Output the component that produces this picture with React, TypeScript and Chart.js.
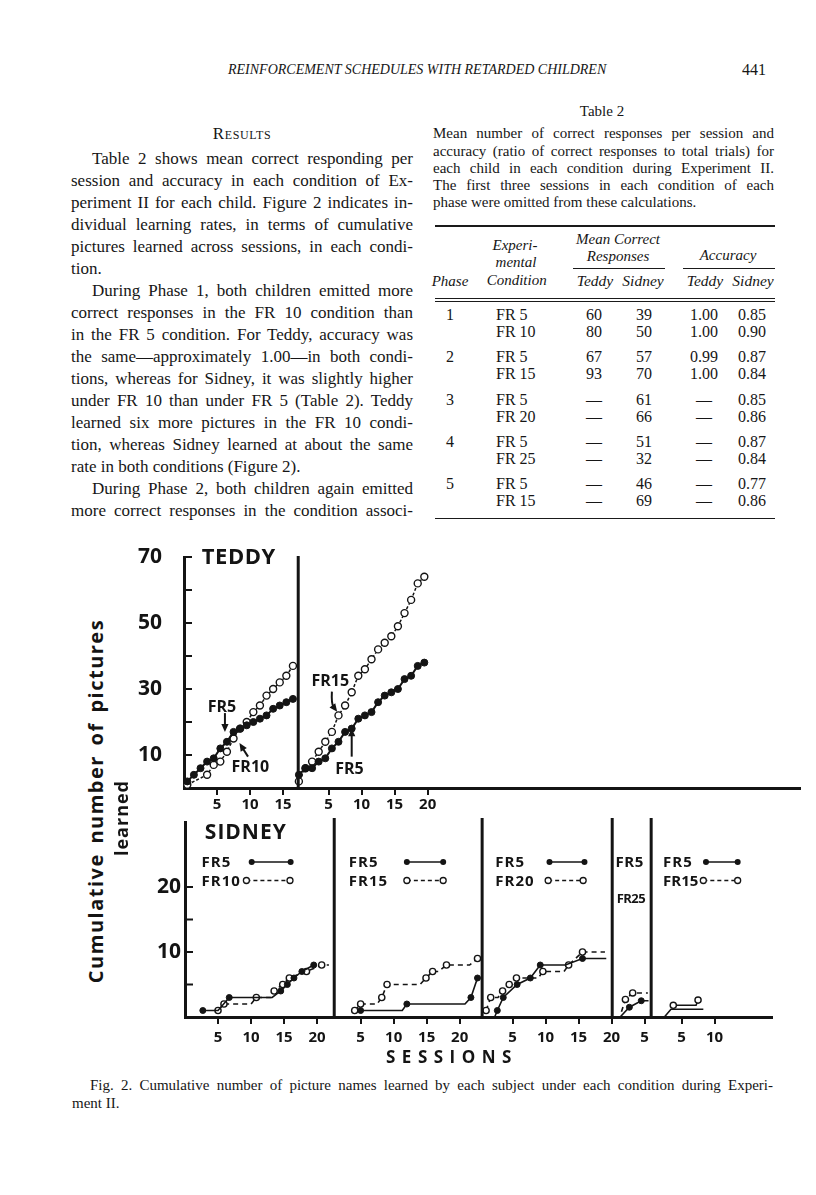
import React, { useEffect, useRef } from "react";
import { Chart, registerables } from "chart.js";

Chart.register(...registerables);

const INK = "#141414";
const SANS = '"Open Sans", "DejaVu Sans", sans-serif';
const SERIF = '"Liberation Serif", "Times New Roman", serif';

/* ================= Figure 2 data ================= */
// Teddy – Phase 1 (FR 5 filled / FR 10 open)
const teddyP1Sessions = [1, 2, 3, 4, 5, 6, 7, 8, 9, 10, 11, 12, 13, 14, 15, 16, 17];
const teddyP1FR5 = [2, 4, 6, 8, 9, 12, 14, 17, 18, 19, 20, 21, 22, 24, 25, 26, 27];
const teddyP1FR10Sessions = [1, 4, 5, 6, 7, 8, 9, 10, 11, 12, 13, 14, 15, 16, 17];
const teddyP1FR10 = [1, 4, 7, 8, 11, 15, 18, 20, 23, 25, 28, 30, 32, 34, 37];
// Teddy – Phase 2 (FR 5 filled / FR 15 open)
const teddyP2Sessions = [1, 2, 3, 4, 5, 6, 7, 8, 9, 10, 11, 12, 13, 14, 15, 16, 17, 18, 19, 20];
const teddyP2FR5 = [4, 6, 6, 8, 9, 12, 14, 17, 18, 21, 22, 23, 26, 28, 29, 30, 33, 34, 37, 38];
const teddyP2FR15 = [2, 6, 8, 11, 14, 17, 22, 25, 29, 34, 36, 39, 42, 44, 46, 49, 53, 57, 62, 64];

const teddyXTickLabels = [[5, 10, 15], [5, 10, 15, 20]];
const teddyYLabels = [10, 30, 50, 70];
const teddyYTicks = [10, 20, 30, 40, 50, 60, 70];

// Sidney – sessions (read positions), cumulative values, marker flags
const sidP1FR5Sessions = [2.7, 5.0, 6.7, 13.2, 14.5, 15.5, 16.5, 17.7, 19.5];
const sidP1FR5 = [1, 1, 3, 3, 4, 5, 6, 7, 8];
const sidP1FR5Marks = [1, 0, 1, 0, 1, 1, 1, 1, 1];
const sidP1FR10Sessions = [5.0, 5.9, 10.0, 10.8, 13.0, 13.5, 14.8, 15.8, 18.4, 20.7, 21.8];
const sidP1FR10 = [1, 2, 2, 3, 3, 4, 5, 6, 7, 8, 8];
const sidP1FR10Marks = [1, 1, 0, 1, 0, 1, 1, 1, 1, 1, 0];

const sidP2FR5Sessions = [5.0, 11.3, 12.0, 20.8, 21.7, 22.7];
const sidP2FR5 = [1, 1, 2, 2, 3, 6];
const sidP2FR5Marks = [1, 0, 1, 0, 1, 1];
const sidP2FR15Sessions = [4.1, 5.0, 7.5, 8.2, 9.0, 14.0, 14.9, 15.9, 16.8, 18.0, 21.5, 22.7];
const sidP2FR15 = [1, 2, 2, 3, 5, 5, 6, 7, 7, 8, 8, 9];
const sidP2FR15Marks = [1, 1, 0, 1, 1, 0, 1, 1, 0, 1, 0, 1];

const sidP3FR5Sessions = [2.3, 2.7, 3.6, 5.7, 7.7, 9.2, 13.0, 15.6, 19.2];
const sidP3FR5 = [0, 1, 3, 5, 6, 8, 8, 9, 9];
const sidP3FR5Marks = [0, 1, 1, 1, 1, 1, 0, 1, 0];
const sidP3FR20Sessions = [1.0, 1.7, 2.8, 3.5, 4.5, 5.6, 8.9, 9.6, 12.8, 13.5, 15.6, 19.0];
const sidP3FR20 = [1, 3, 3, 4, 5, 6, 6, 7, 7, 8, 10, 10];
const sidP3FR20Marks = [1, 1, 0, 1, 1, 1, 0, 1, 0, 1, 1, 0];

const sidP4FR5Sessions = [1.3, 2.7, 4.5, 5.6];
const sidP4FR5 = [0, 1.5, 2.5, 2.5];
const sidP4FR5Marks = [0, 1, 1, 0];
const sidP4FR25Sessions = [1.5, 2.1, 3.2, 5.5];
const sidP4FR25 = [0.8, 2.7, 3.7, 3.7];
const sidP4FR25Marks = [0, 1, 1, 0];

const sidP5FR5Sessions = [2.4, 3.4, 8.3];
const sidP5FR5 = [0, 1.2, 1.2];
const sidP5FR5Marks = [0, 0, 0];
const sidP5FR15Sessions = [3.75, 7.2, 7.5];
const sidP5FR15 = [1.8, 1.8, 2.6];
const sidP5FR15Marks = [1, 0, 1];

const sidXTickLabels = [[5, 10, 15, 20], [5, 10, 15, 20], [5, 10, 15, 20], [5], [5, 10]];
const sidYLabels = [10, 20];
const sidYTicks = [5, 10, 15, 20];

/* ================= Table 2 data ================= */
const tablePhases = ["1", "2", "3", "4", "5"];
const tableConditions = [["FR 5", "FR 10"], ["FR 5", "FR 15"], ["FR 5", "FR 20"], ["FR 5", "FR 25"], ["FR 5", "FR 15"]];
const tableTeddyMean = [["60", "80"], ["67", "93"], ["—", "—"], ["—", "—"], ["—", "—"]];
const tableSidneyMean = [["39", "50"], ["57", "70"], ["61", "66"], ["51", "32"], ["46", "69"]];
const tableTeddyAcc = [["1.00", "1.00"], ["0.99", "1.00"], ["—", "—"], ["—", "—"], ["—", "—"]];
const tableSidneyAcc = [["0.85", "0.90"], ["0.87", "0.84"], ["0.85", "0.86"], ["0.87", "0.84"], ["0.77", "0.86"]];

/* ================= layout constants (axis units) ================= */
const TEDDY_X_MAX = 93.3;
const TEDDY_ORIGINS = [0, 16.9];
const TEDDY_DATA_SHIFT = -0.5;
const TEDDY_DIVIDERS = [17.3];
const SID_X_MAX = 88.9;
const SID_ORIGINS = [0, 21.6, 44.6, 64.6, 70.2];
const SID_DIVIDERS = [22.6, 45.0, 64.7, 70.6];

function series(sessions, values, origin, filled, o) {
  return {
    data: sessions.map((s, i) => ({ x: origin + s, y: values[i] })),
    showLine: true,
    borderColor: INK,
    borderWidth: o.lw,
    borderDash: o.dash,
    tension: 0,
    pointRadius: o.marks ? o.marks.map((m) => (m ? o.r : 0)) : o.r,
    pointHoverRadius: 0,
    pointBackgroundColor: filled ? INK : "#ffffff",
    pointBorderColor: INK,
    pointBorderWidth: filled ? 1 : 1.4,
    clip: false,
  };
}

function extras(cfg) {
  return {
    id: "figureExtras",
    afterDraw(chart) {
      const { ctx, chartArea } = chart;
      const xs = chart.scales.x;
      const ys = chart.scales.y;
      const P = (x, y) => ({ x: xs.getPixelForValue(x), y: ys.getPixelForValue(y) });
      ctx.save();
      ctx.strokeStyle = INK;
      ctx.fillStyle = INK;
      ctx.setLineDash([]);
      // inner y ticks
      ctx.lineWidth = 2;
      cfg.yTicks.forEach((v) => {
        const py = ys.getPixelForValue(v);
        ctx.beginPath();
        ctx.moveTo(chartArea.left, py);
        ctx.lineTo(chartArea.left + cfg.tickLen, py);
        ctx.stroke();
      });
      // phase dividers
      ctx.lineWidth = 3;
      cfg.dividers.forEach((v) => {
        const px = xs.getPixelForValue(v);
        ctx.beginPath();
        ctx.moveTo(px, chartArea.bottom);
        ctx.lineTo(px, chartArea.top - cfg.dividerOver);
        ctx.stroke();
      });
      // texts
      cfg.texts.forEach((t) => {
        const p = P(t.x, t.y);
        ctx.font = `bold ${t.size}px ${SANS}`;
        ctx.letterSpacing = `${t.spacing || 0}px`;
        ctx.textAlign = "left";
        ctx.textBaseline = "alphabetic";
        ctx.fillText(t.text, p.x, p.y + 0.36 * t.size);
      });
      ctx.letterSpacing = "0px";
      // arrows
      cfg.arrows.forEach((a) => {
        const p1 = P(a.x1, a.y1);
        const p2 = P(a.x2, a.y2);
        const c = a.cx !== undefined ? P(a.cx, a.cy) : null;
        const from = c || p1;
        const ang = Math.atan2(p2.y - from.y, p2.x - from.x);
        const L = 8, W = 3.6;
        const endX = p2.x - Math.cos(ang) * (L - 2);
        const endY = p2.y - Math.sin(ang) * (L - 2);
        ctx.lineWidth = 2;
        ctx.beginPath();
        ctx.moveTo(p1.x, p1.y);
        if (c) ctx.quadraticCurveTo(c.x, c.y, endX, endY);
        else ctx.lineTo(endX, endY);
        ctx.stroke();
        ctx.beginPath();
        ctx.moveTo(p2.x, p2.y);
        ctx.lineTo(p2.x - L * Math.cos(ang) + W * Math.sin(ang), p2.y - L * Math.sin(ang) - W * Math.cos(ang));
        ctx.lineTo(p2.x - L * Math.cos(ang) - W * Math.sin(ang), p2.y - L * Math.sin(ang) + W * Math.cos(ang));
        ctx.closePath();
        ctx.fill();
      });
      // legend samples
      cfg.samples.forEach((s) => {
        const a = P(s.x1, s.y);
        const b = P(s.x2, s.y);
        ctx.lineWidth = 1.6;
        ctx.setLineDash(s.filled ? [] : [4, 3]);
        ctx.beginPath();
        ctx.moveTo(a.x, a.y);
        ctx.lineTo(b.x, b.y);
        ctx.stroke();
        ctx.setLineDash([]);
        [a, b].forEach((p) => {
          ctx.beginPath();
          ctx.arc(p.x, p.y, 3, 0, Math.PI * 2);
          if (s.filled) {
            ctx.fill();
          } else {
            ctx.fillStyle = "#fff";
            ctx.fill();
            ctx.fillStyle = INK;
            ctx.lineWidth = 1.3;
            ctx.stroke();
          }
        });
      });
      ctx.restore();
    },
  };
}

function xScale(max, origins, labels, axisHeight, pad) {
  const vals = [];
  const labs = [];
  labels.forEach((arr, i) => arr.forEach((l) => { vals.push(origins[i] + l); labs.push(String(l)); }));
  return {
    type: "linear",
    position: "bottom",
    min: 0,
    max,
    afterBuildTicks: (s) => { s.ticks = vals.map((v) => ({ value: v })); },
    ticks: {
      autoSkip: false, maxRotation: 0, minRotation: 0, padding: pad, color: INK,
      font: { family: SANS, weight: "bold", size: 15 },
      callback: (_v, i) => labs[i],
    },
    grid: { display: true, drawOnChartArea: false, drawTicks: true, tickLength: 7, lineWidth: 2, color: INK },
    border: { display: true, width: 3, color: INK },
    afterFit: (s) => {
      s.height = axisHeight;
      s.paddingLeft = 0;
      s.paddingRight = 0;
    },
  };
}

function yScale(max, labels, pad, width) {
  return {
    type: "linear",
    position: "left",
    min: 0,
    max,
    afterBuildTicks: (s) => { s.ticks = labels.map((v) => ({ value: v })); },
    ticks: { padding: pad, color: INK, font: { family: SANS, weight: "bold", size: 21 }, callback: (v) => String(v) },
    grid: { display: false, drawTicks: false },
    border: { display: true, width: 3, color: INK },
    afterFit: (s) => {
      s.width = width;
      s.paddingTop = 0;
      s.paddingBottom = 0;
    },
  };
}

function teddyConfig() {
  const o1 = TEDDY_ORIGINS[0] + TEDDY_DATA_SHIFT;
  const o2 = TEDDY_ORIGINS[1] + TEDDY_DATA_SHIFT;
  const filled = { r: 3.5, lw: 2, dash: [] };
  const open = { r: 3.5, lw: 1.5, dash: [3, 2] };
  return {
    type: "scatter",
    data: {
      datasets: [
        series(teddyP1Sessions, teddyP1FR5, o1, true, filled),
        series(teddyP1FR10Sessions, teddyP1FR10, o1, false, open),
        series(teddyP2Sessions, teddyP2FR5, o2, true, filled),
        series(teddyP2Sessions, teddyP2FR15, o2, false, open),
      ],
    },
    options: {
      animation: false,
      responsive: false,
      devicePixelRatio: 1,
      events: [],
      layout: { autoPadding: false, padding: { top: 17, right: 10, left: 0, bottom: 0 } },
      plugins: { legend: { display: false }, tooltip: { enabled: false } },
      scales: {
        x: xScale(TEDDY_X_MAX, TEDDY_ORIGINS, teddyXTickLabels, 24, 1),
        y: yScale(70, teddyYLabels, 22, 54),
      },
    },
    plugins: [
      extras({
        yTicks: teddyYTicks,
        tickLen: 8,
        dividers: TEDDY_DIVIDERS,
        dividerOver: 1,
        texts: [
          { text: "TEDDY", x: 2.7, y: 70.2, size: 22, spacing: 0.5 },
          { text: "FR5", x: 3.6, y: 24.8, size: 16 },
          { text: "FR10", x: 7.2, y: 6.7, size: 16 },
          { text: "FR15", x: 19.3, y: 32.7, size: 16 },
          { text: "FR5", x: 22.9, y: 6.1, size: 16 },
        ],
        arrows: [
          { x1: 6.2, y1: 22.7, x2: 6.2, y2: 17.0 },
          { x1: 9.7, y1: 9.5, x2: 8.4, y2: 13.6 },
          { x1: 22.4, y1: 29.2, x2: 23.2, y2: 23.1, cx: 22.3, cy: 25.5 },
          { x1: 25.4, y1: 9.5, x2: 25.4, y2: 18.1 },
        ],
        samples: [],
      }),
    ],
  };
}

function sidneyConfig() {
  const filled = (marks) => ({ r: 3, lw: 1.6, dash: [], marks });
  const open = (marks) => ({ r: 3.1, lw: 1.6, dash: [5, 4], marks });
  const O = SID_ORIGINS;
  return {
    type: "scatter",
    data: {
      datasets: [
        series(sidP1FR5Sessions, sidP1FR5, O[0], true, filled(sidP1FR5Marks)),
        series(sidP1FR10Sessions, sidP1FR10, O[0], false, open(sidP1FR10Marks)),
        series(sidP2FR5Sessions, sidP2FR5, O[1], true, filled(sidP2FR5Marks)),
        series(sidP2FR15Sessions, sidP2FR15, O[1], false, open(sidP2FR15Marks)),
        series(sidP3FR5Sessions, sidP3FR5, O[2], true, filled(sidP3FR5Marks)),
        series(sidP3FR20Sessions, sidP3FR20, O[2], false, open(sidP3FR20Marks)),
        series(sidP4FR5Sessions, sidP4FR5, O[3], true, filled(sidP4FR5Marks)),
        series(sidP4FR25Sessions, sidP4FR25, O[3], false, open(sidP4FR25Marks)),
        series(sidP5FR5Sessions, sidP5FR5, O[4], true, filled(sidP5FR5Marks)),
        series(sidP5FR15Sessions, sidP5FR15, O[4], false, { r: 3.1, lw: 1.6, dash: [], marks: sidP5FR15Marks }),
      ],
    },
    options: {
      animation: false,
      responsive: false,
      devicePixelRatio: 1,
      events: [],
      layout: { autoPadding: false, padding: { top: 10, right: 18, left: 0, bottom: 0 } },
      plugins: { legend: { display: false }, tooltip: { enabled: false } },
      scales: {
        x: xScale(SID_X_MAX, SID_ORIGINS, sidXTickLabels, 30, 5),
        y: yScale(30, sidYLabels, 4, 55),
      },
    },
    plugins: [
      extras({
        yTicks: sidYTicks,
        tickLen: 8,
        dividers: SID_DIVIDERS,
        dividerOver: 4,
        texts: [
          { text: "SIDNEY", x: 3.0, y: 28.5, size: 21, spacing: 1 },
          { text: "FR5", x: 2.5, y: 23.85, size: 15, spacing: 1 },
          { text: "FR10", x: 2.5, y: 21.0, size: 15, spacing: 1 },
          { text: "FR5", x: 24.8, y: 23.85, size: 15, spacing: 1 },
          { text: "FR15", x: 24.8, y: 21.0, size: 15, spacing: 1 },
          { text: "FR5", x: 47.0, y: 23.85, size: 15, spacing: 1 },
          { text: "FR20", x: 47.0, y: 21.0, size: 15, spacing: 1 },
          { text: "FR5", x: 65.2, y: 23.85, size: 15, spacing: 0.5 },
          { text: "FR25", x: 65.4, y: 18.3, size: 13, spacing: -0.6 },
          { text: "FR5", x: 72.4, y: 23.85, size: 15, spacing: 1 },
          { text: "FR15", x: 72.4, y: 21.0, size: 15, spacing: 0 },
        ],
        arrows: [],
        samples: [
          { x1: 10.1, x2: 16.0, y: 23.85, filled: true },
          { x1: 9.3, x2: 15.9, y: 21.0, filled: false },
          { x1: 33.6, x2: 39.1, y: 23.85, filled: true },
          { x1: 33.6, x2: 39.1, y: 21.0, filled: false },
          { x1: 55.2, x2: 60.5, y: 23.85, filled: true },
          { x1: 55.0, x2: 60.3, y: 21.0, filled: false },
          { x1: 78.9, x2: 83.7, y: 23.85, filled: true },
          { x1: 78.5, x2: 83.7, y: 21.0, filled: false },
        ],
      }),
    ],
  };
}

function ChartCanvas({ make, left, top, width, height }) {
  const ref = useRef(null);
  useEffect(() => {
    const chart = new Chart(ref.current, make());
    return () => chart.destroy();
  }, []);
  return (
    <canvas
      ref={ref}
      width={width}
      height={height}
      style={{ position: "absolute", left, top, width, height }}
    />
  );
}

/* ================= page text ================= */
function Txt({ x, cy, w, size, lh, align = "left", italic = false, caps = false, family = SERIF, style = {}, children }) {
  const justify = align === "justify";
  return (
    <div
      style={{
        position: "absolute",
        left: x,
        top: cy - lh / 2 - (caps ? 0 : 0.08 * size),
        width: w,
        fontSize: size,
        lineHeight: `${lh}px`,
        fontFamily: family,
        fontStyle: italic ? "italic" : "normal",
        textAlign: justify ? "justify" : align,
        textAlignLast: justify ? "justify" : undefined,
        whiteSpace: w ? "normal" : "nowrap",
        color: "#161616",
        ...style,
      }}
    >
      {children}
    </div>
  );
}

const resultsLines = [
  { t: "Table 2 shows mean correct responding per", indent: true },
  { t: "session and accuracy in each condition of Ex-" },
  { t: "periment II for each child. Figure 2 indicates in-" },
  { t: "dividual learning rates, in terms of cumulative" },
  { t: "pictures learned across sessions, in each condi-" },
  { t: "tion.", last: true },
  { t: "During Phase 1, both children emitted more", indent: true },
  { t: "correct responses in the FR 10 condition than" },
  { t: "in the FR 5 condition. For Teddy, accuracy was" },
  { t: "the same—approximately 1.00—in both condi-" },
  { t: "tions, whereas for Sidney, it was slightly higher" },
  { t: "under FR 10 than under FR 5 (Table 2). Teddy" },
  { t: "learned six more pictures in the FR 10 condi-" },
  { t: "tion, whereas Sidney learned at about the same" },
  { t: "rate in both conditions (Figure 2).", last: true },
  { t: "During Phase 2, both children again emitted", indent: true },
  { t: "more correct responses in the condition associ-" },
];

const tableCaptionLines = [
  { t: "Mean number of correct responses per session and" },
  { t: "accuracy (ratio of correct responses to total trials) for" },
  { t: "each child in each condition during Experiment II." },
  { t: "The first three sessions in each condition of each" },
  { t: "phase were omitted from these calculations.", last: true },
];

const rowCenters = [316.7, 358.3, 401, 443.3, 485.7];
const ROW_GAP = 17;

function Rule({ x1, x2, y, h = 1 }) {
  return <div style={{ position: "absolute", left: x1, top: y - h / 2, width: x2 - x1, height: h, background: "#1a1a1a" }} />;
}

function Centered({ cx, cy, size, italic = false, children, caps = false, lh = 20 }) {
  return (
    <Txt x={cx - 100} cy={cy} w={200} size={size} lh={lh} align="center" italic={italic} caps={caps}>
      {children}
    </Txt>
  );
}

export default function App() {
  return (
    <div style={{ position: "absolute", left: 0, top: 0, width: 816, height: 1195, background: "#fff", overflow: "hidden" }}>
      {/* running head */}
      <Txt x={228} cy={70} size={14} lh={18} italic caps>
        REINFORCEMENT SCHEDULES WITH RETARDED CHILDREN
      </Txt>
      <Txt x={742} cy={70} size={16} lh={18} caps>441</Txt>

      {/* left column */}
      <Centered cx={242} cy={134} size={17} caps lh={22}>
        <span style={{ fontVariant: "small-caps", letterSpacing: "0.6px" }}>Results</span>
      </Centered>
      {resultsLines.map((l, i) => (
        <Txt
          key={i}
          x={l.indent ? 92 : 71}
          cy={160 + 22 * i}
          w={l.indent ? 321 : 342}
          size={17}
          lh={22}
          align={l.last ? "left" : "justify"}
        >
          {l.t}
        </Txt>
      ))}

      {/* right column: Table 2 */}
      <Centered cx={602} cy={112} size={15} lh={18}>Table 2</Centered>
      {tableCaptionLines.map((l, i) => (
        <Txt key={i} x={433} cy={135 + 17.25 * i} w={341} size={15} lh={17} align={l.last ? "left" : "justify"}>
          {l.t}
        </Txt>
      ))}
      <Rule x1={435} x2={775} y={226} h={1.6} />
      <Centered cx={515} cy={246.7} size={15} italic lh={17}>Experi-</Centered>
      <Centered cx={516} cy={264} size={15} italic lh={17}>mental</Centered>
      <Centered cx={516.7} cy={281.7} size={15} italic lh={17}>Condition</Centered>
      <Centered cx={450} cy={282.7} size={15} italic lh={17}>Phase</Centered>
      <Centered cx={618} cy={240.7} size={15} italic lh={17}>Mean Correct</Centered>
      <Centered cx={618} cy={257.3} size={15} italic lh={17}>Responses</Centered>
      <Rule x1={573} x2={665} y={268.3} h={1.2} />
      <Centered cx={728} cy={256.7} size={15} italic lh={17}>Accuracy</Centered>
      <Rule x1={683} x2={775} y={268.3} h={1.2} />
      <Centered cx={595} cy={282} size={15.5} italic lh={17}>Teddy</Centered>
      <Centered cx={643} cy={282} size={15.5} italic lh={17}>Sidney</Centered>
      <Centered cx={705} cy={282} size={15.5} italic lh={17}>Teddy</Centered>
      <Centered cx={753} cy={282} size={15.5} italic lh={17}>Sidney</Centered>
      <Rule x1={435} x2={775} y={298.3} h={1} />
      <Rule x1={435} x2={775} y={301} h={1} />
      {rowCenters.map((cy, g) => (
        <React.Fragment key={g}>
          <Centered cx={450} cy={cy} size={16} lh={18}>{tablePhases[g]}</Centered>
          {[0, 1].map((r) => (
            <React.Fragment key={r}>
              <Txt x={496} cy={cy + r * ROW_GAP} size={16} lh={18}>{tableConditions[g][r]}</Txt>
              <Centered cx={594} cy={cy + r * ROW_GAP} size={16} lh={18}>{tableTeddyMean[g][r]}</Centered>
              <Centered cx={644} cy={cy + r * ROW_GAP} size={16} lh={18}>{tableSidneyMean[g][r]}</Centered>
              <Centered cx={704} cy={cy + r * ROW_GAP} size={16} lh={18}>{tableTeddyAcc[g][r]}</Centered>
              <Centered cx={752} cy={cy + r * ROW_GAP} size={16} lh={18}>{tableSidneyAcc[g][r]}</Centered>
            </React.Fragment>
          ))}
        </React.Fragment>
      ))}
      <Rule x1={435} x2={775} y={518.3} h={1.6} />

      {/* Figure 2 */}
      <ChartCanvas make={teddyConfig} left={130} top={540} width={680} height={272} />
      <ChartCanvas make={sidneyConfig} left={130} top={812} width={660} height={235} />

      <div
        style={{
          position: "absolute", left: 95.5 - 220, top: 801 - 14, width: 440, height: 28, lineHeight: "28px",
          textAlign: "center", transform: "rotate(-90deg)", fontFamily: SANS, fontWeight: 700, fontSize: 20,
          letterSpacing: "1.5px", wordSpacing: "3px", color: INK, whiteSpace: "nowrap",
        }}
      >
        Cumulative number of pictures
      </div>
      <div
        style={{
          position: "absolute", left: 121 - 60, top: 818 - 13, width: 120, height: 26, lineHeight: "26px",
          textAlign: "center", transform: "rotate(-90deg)", fontFamily: SANS, fontWeight: 700, fontSize: 18,
          letterSpacing: "1px", color: INK, whiteSpace: "nowrap",
        }}
      >
        learned
      </div>
      <div
        style={{
          position: "absolute", left: 386, top: 1044.5, height: 24, lineHeight: "24px", fontFamily: SANS,
          fontWeight: 700, fontSize: 17, letterSpacing: "6.5px", color: INK, whiteSpace: "nowrap",
        }}
      >
        SESSIONS
      </div>

      {/* figure caption */}
      <Txt x={90} cy={1086} w={683} size={15} lh={18} align="justify">
        Fig. 2. Cumulative number of picture names learned by each subject under each condition during Experi-
      </Txt>
      <Txt x={72} cy={1104} size={15} lh={18}>ment II.</Txt>
    </div>
  );
}
